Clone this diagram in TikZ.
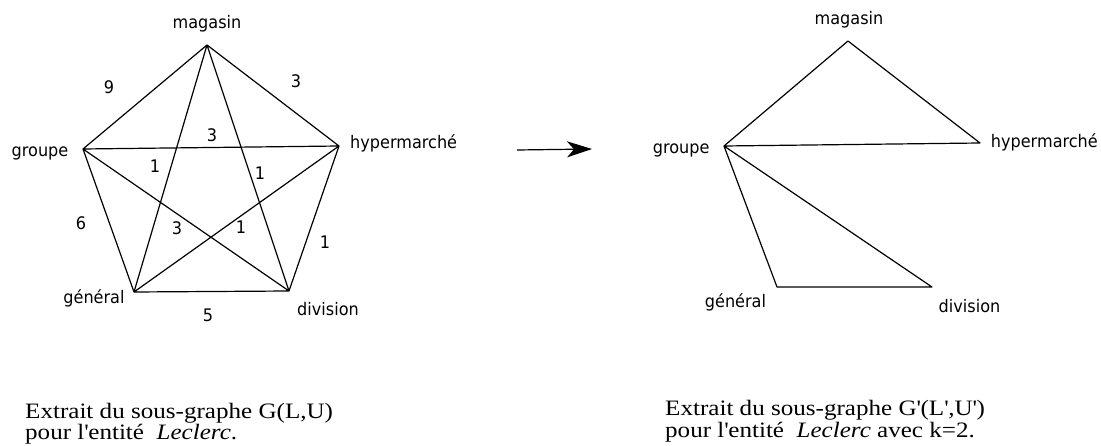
\documentclass[tikz,border=0pt]{standalone}
\usepackage{fontspec}
\setmainfont{Liberation Serif}[FakeStretch=1.14]
\newfontfamily\lblfont{DejaVu Sans}[FakeStretch=0.93]
\usetikzlibrary{arrows.meta}
\begin{document}
\begin{tikzpicture}[x=1pt,y=-1pt,
  edge/.style={line width=1.2pt,line cap=round,line join=round},
  lbl/.style={font=\lblfont\fontsize{17.3}{20}\selectfont,inner sep=0pt,anchor=base},
  wt/.style={font=\lblfont\fontsize{17.3}{20}\selectfont,inner sep=0pt},
  captext/.style={font=\fontsize{22}{21}\selectfont,inner sep=0pt,anchor=base west}]
\useasboundingbox (0,0) rectangle (1101,446);
% left graph
\coordinate (m) at (207,45);
\coordinate (g) at (83,149);
\coordinate (h) at (339,146);
\coordinate (ge) at (134,292);
\coordinate (d) at (289,291);
\draw[edge] (m) -- (g) (m) -- (h) (g) -- (h) (g) -- (ge) (h) -- (d) (ge) -- (d)
  (m) -- (ge) (m) -- (d) (g) -- (d) (h) -- (ge);
\node[lbl] (lm) at (207,28.3) {magasin};
\node[lbl,anchor=base east] (lg) at (68.5,156.5) {groupe};
\node[lbl,anchor=base west] (lh) at (350,148.3) {hypermarché};
\node[lbl] (lge) at (94,303.5) {général};
\node[lbl] (ld) at (328,315.7) {division};
\node[wt] (w1) at (109,87) {9};
\node[wt] (w2) at (296,81) {3};
\node[wt] (w3) at (212,135) {3};
\node[wt] (w4) at (155,166) {1};
\node[wt] (w5) at (260,173) {1};
\node[wt] (w6) at (81,223) {6};
\node[wt] (w7) at (177,228) {3};
\node[wt] (w8) at (241,227) {1};
\node[wt] (w9) at (325,242) {1};
\node[wt] (w10) at (208,315) {5};
% arrow
\coordinate (a1) at (517,150);
\coordinate (a2) at (592,149);
\draw[line width=1.2pt,-{Stealth[length=25pt,width=16pt,inset=7pt]}] (a1) -- (a2);
% right graph
\coordinate (m2) at (848,41);
\coordinate (g2) at (724,146);
\coordinate (h2) at (980,143);
\coordinate (ge2) at (777,287);
\coordinate (d2) at (932,287);
\draw[edge] (g2) -- (m2) -- (h2) (g2) -- (h2) (g2) -- (ge2) -- (d2) -- (g2);
\node[lbl] (lm2) at (849,25) {magasin};
\node[lbl,anchor=base west] (lg2) at (652.7,153.3) {groupe};
\node[lbl,anchor=base west] (lh2) at (990.7,147.7) {hypermarché};
\node[lbl] (lge2) at (735.5,307.3) {général};
\node[lbl] (ld2) at (969.5,312.3) {division};
% captions
\node[captext] (c1) at (25,418) {Extrait du sous-graphe G(L,U)};
\node[captext] (c2) at (25,439) {pour l\textquotesingle entité\ \ \textit{Leclerc}.};
\node[captext] (c3) at (665,416) {Extrait du sous-graphe G\textquotesingle(L\textquotesingle,U\textquotesingle)};
\node[captext] (c4) at (665,437.5) {pour l\textquotesingle entité\ \ \textit{Leclerc} avec k=2.};
\end{tikzpicture}
\end{document}
